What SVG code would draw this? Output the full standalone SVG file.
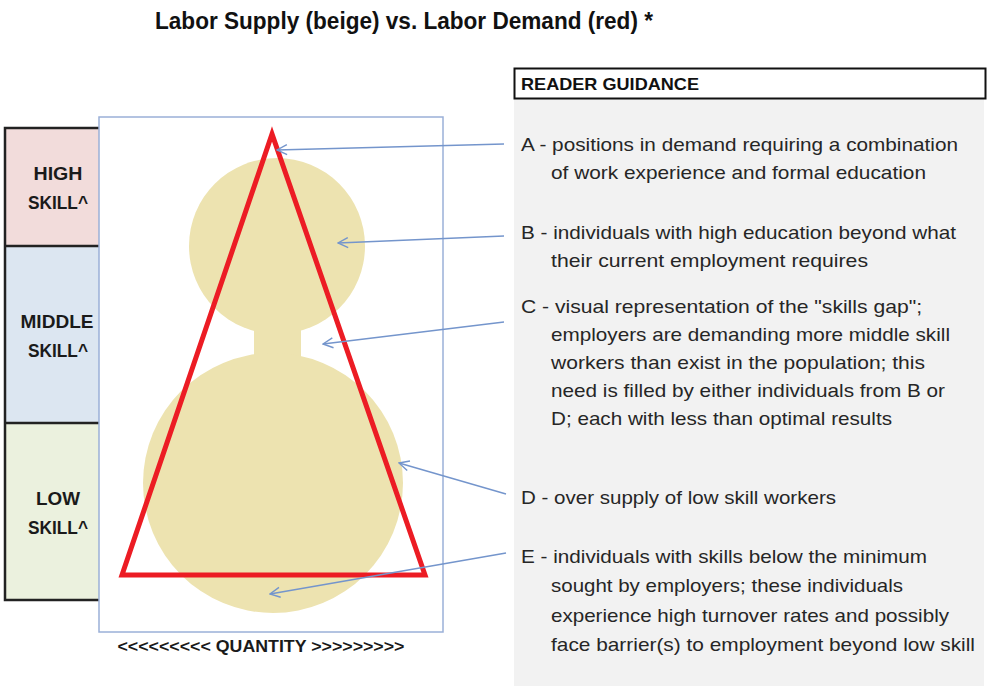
<svg xmlns="http://www.w3.org/2000/svg" width="988" height="686" viewBox="0 0 988 686">
  <style>
    .title { font-family: "Liberation Sans", Arial, sans-serif; font-weight: bold; font-size: 23px; fill: #111; }
    .skill { font-family: "Liberation Sans", Arial, sans-serif; font-weight: bold; font-size: 18px; fill: #1a1a1a; text-anchor: middle; }
    .qty { font-family: "Liberation Sans", Arial, sans-serif; font-weight: bold; font-size: 17px; fill: #1a1a1a; text-anchor: middle; }
    .guide { font-family: "Liberation Sans", Arial, sans-serif; font-size: 19px; fill: #262626; }
    .head { font-family: "Liberation Sans", Arial, sans-serif; font-weight: bold; font-size: 16.5px; fill: #111; }
    .conn { fill: none; stroke: #7495cc; stroke-width: 1.4; marker-end: url(#vhead); }
    .band { stroke: none; }
    .edge { stroke: #222; stroke-width: 2.5; fill: none; }
  </style>
  <defs>
    <marker id="vhead" viewBox="0 0 12 12" refX="11" refY="6" markerWidth="12" markerHeight="12" markerUnits="userSpaceOnUse" orient="auto">
      <path d="M1,1 L11,6 L1,11" fill="none" stroke="#7495cc" stroke-width="1.4"/>
    </marker>
  </defs>

  <rect width="988" height="686" fill="#ffffff"/>

  <!-- heading -->
  <text class="title" x="155" y="29" textLength="498" lengthAdjust="spacingAndGlyphs">Labor Supply (beige) vs. Labor Demand (red) *</text>

  <!-- skill level bands -->
  <g id="skill-high">
    <rect class="band" x="5" y="128" width="94" height="118" fill="#f2dcdb"/>
    <text class="skill" x="58" y="180" textLength="49" lengthAdjust="spacingAndGlyphs">HIGH</text>
    <text class="skill" x="58" y="209" textLength="60" lengthAdjust="spacingAndGlyphs">SKILL^</text>
  </g>
  <g id="skill-middle">
    <rect class="band" x="5" y="246" width="94" height="177" fill="#dce6f1"/>
    <text class="skill" x="57" y="328" textLength="73" lengthAdjust="spacingAndGlyphs">MIDDLE</text>
    <text class="skill" x="58" y="357" textLength="60" lengthAdjust="spacingAndGlyphs">SKILL^</text>
  </g>
  <g id="skill-low">
    <rect class="band" x="5" y="423" width="94" height="177" fill="#ebf1de"/>
    <text class="skill" x="58" y="505" textLength="44" lengthAdjust="spacingAndGlyphs">LOW</text>
    <text class="skill" x="58" y="534" textLength="60" lengthAdjust="spacingAndGlyphs">SKILL^</text>
  </g>
  <path class="edge" d="M99,128 H5 V600 H99 M5,246 H99 M5,423 H99"/>

  <!-- chart area -->
  <g id="chart">
    <rect x="99" y="117" width="344" height="515" fill="#ffffff" stroke="#9ab0d8" stroke-width="1.5"/>
    <!-- labor supply silhouette -->
    <g id="supply" fill="#ede3b0">
      <circle cx="277" cy="246" r="88"/>
      <rect x="254" y="320" width="47" height="45"/>
      <circle cx="273" cy="483" r="130"/>
    </g>
    <!-- labor demand triangle -->
    <polygon id="demand" points="272,134 122,575 425,575" fill="none" stroke="#ec1c24" stroke-width="5" stroke-linejoin="miter"/>
    <text class="qty" x="261" y="652" textLength="287" lengthAdjust="spacingAndGlyphs">&lt;&lt;&lt;&lt;&lt;&lt;&lt;&lt;&lt; QUANTITY &gt;&gt;&gt;&gt;&gt;&gt;&gt;&gt;&gt;</text>
  </g>

  <!-- guidance panel -->
  <g id="guidance">
    <rect x="514" y="98" width="470" height="588" fill="#f2f2f2"/>
    <rect x="514.5" y="68.5" width="471" height="30" fill="#ffffff" stroke="#111" stroke-width="2"/>
    <text class="head" x="521" y="90" textLength="178" lengthAdjust="spacingAndGlyphs">READER GUIDANCE</text>

    <g id="note-a">
      <text class="guide" x="521" y="151" textLength="437" lengthAdjust="spacingAndGlyphs">A - positions in demand requiring a combination</text>
      <text class="guide" x="551" y="179" textLength="375" lengthAdjust="spacingAndGlyphs">of work experience and formal education</text>
    </g>
    <g id="note-b">
      <text class="guide" x="521" y="239" textLength="435" lengthAdjust="spacingAndGlyphs">B - individuals with high education beyond what</text>
      <text class="guide" x="551" y="267" textLength="317" lengthAdjust="spacingAndGlyphs">their current employment requires</text>
    </g>
    <g id="note-c">
      <text class="guide" x="521" y="313" textLength="401" lengthAdjust="spacingAndGlyphs">C - visual representation of the "skills gap";</text>
      <text class="guide" x="551" y="341" textLength="399" lengthAdjust="spacingAndGlyphs">employers are demanding more middle skill</text>
      <text class="guide" x="551" y="369" textLength="374" lengthAdjust="spacingAndGlyphs">workers than exist in the population; this</text>
      <text class="guide" x="551" y="397" textLength="394" lengthAdjust="spacingAndGlyphs">need is filled by either individuals from B or</text>
      <text class="guide" x="551" y="425" textLength="341" lengthAdjust="spacingAndGlyphs">D; each with less than optimal results</text>
    </g>
    <g id="note-d">
      <text class="guide" x="521" y="504" textLength="315" lengthAdjust="spacingAndGlyphs">D - over supply of low skill workers</text>
    </g>
    <g id="note-e">
      <text class="guide" x="521" y="563" textLength="406" lengthAdjust="spacingAndGlyphs">E - individuals with skills below the minimum</text>
      <text class="guide" x="551" y="592" textLength="352" lengthAdjust="spacingAndGlyphs">sought by employers; these individuals</text>
      <text class="guide" x="551" y="622" textLength="398" lengthAdjust="spacingAndGlyphs">experience high turnover rates and possibly</text>
      <text class="guide" x="551" y="651" textLength="424" lengthAdjust="spacingAndGlyphs">face barrier(s) to employment beyond low skill</text>
    </g>
  </g>

  <!-- leader arrows from notes to chart -->
  <g id="connectors">
    <line class="conn" x1="504" y1="144" x2="277" y2="150"/>
    <line class="conn" x1="504" y1="236" x2="338" y2="243"/>
    <line class="conn" x1="504" y1="322" x2="323" y2="344"/>
    <line class="conn" x1="506" y1="494" x2="399" y2="463"/>
    <line class="conn" x1="506" y1="553" x2="270" y2="594"/>
  </g>
</svg>
